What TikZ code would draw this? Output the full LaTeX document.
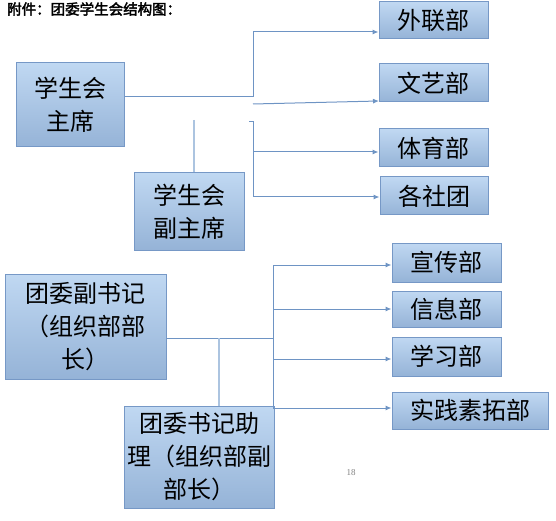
\documentclass[tikz,border=0pt]{standalone}
\usepackage{fontspec}
\setmainfont{Noto Sans CJK SC}
\newfontfamily\titlefont[FakeBold=2.5]{Noto Sans CJK SC}
\newfontfamily\numfont{Liberation Serif}
\usetikzlibrary{arrows.meta}
\definecolor{boxtop}{RGB}{192,216,242}
\definecolor{boxbot}{RGB}{149,179,215}
\definecolor{boxline}{RGB}{118,152,198}
\definecolor{connc}{RGB}{110,148,196}
\definecolor{lightc}{RGB}{172,196,224}
\tikzset{
  box/.style={draw=boxline, line width=1pt, top color=boxtop, bottom color=boxbot,
    inner sep=0pt, align=center, font=\fontsize{24}{33}\selectfont},
  conn/.style={draw=connc, line width=1pt},
  arr/.style={conn, -{Latex[length=6pt,width=5pt]}},
  lite/.style={draw=lightc, line width=1.6pt},
}
\begin{document}
\begin{tikzpicture}[x=1pt,y=-1pt]
\useasboundingbox (0,0) rectangle (556,521);
% title
\node[anchor=west, inner sep=0pt, font=\titlefont\fontsize{14.5}{16}\selectfont] (title) at (7,9) {附件：团委学生会结构图：};
% upper boxes
\node[box, minimum width=108pt, minimum height=84pt] (zx) at (70,105) {学生会\\主席};
\node[box, minimum width=110pt, minimum height=77pt] (fzx) at (189,211.5) {学生会\\副主席};
\node[box, minimum width=109pt, minimum height=37pt] (wl) at (433.5,20.5) {外联部};
\node[box, minimum width=109pt, minimum height=38pt] (wy) at (433.5,83) {文艺部};
\node[box, minimum width=109pt, minimum height=38pt] (ty) at (433.5,148) {体育部};
\node[box, minimum width=108pt, minimum height=38pt] (gst) at (434,196) {各社团};
% lower boxes
\node[box, minimum width=161pt, minimum height=105pt] (fsj) at (85.5,326.5) {团委副书记\\（组织部部\\长）};
\node[box, minimum width=150pt, minimum height=102pt] (zl) at (199,457) {团委书记助\\理（组织部副\\部长）};
\node[box, minimum width=109pt, minimum height=39pt] (xc) at (446.5,262.5) {宣传部};
\node[box, minimum width=109pt, minimum height=36pt] (xx) at (446.5,309) {信息部};
\node[box, minimum width=109pt, minimum height=39pt] (xxb) at (446.5,356.5) {学习部};
\node[box, minimum width=156pt, minimum height=37pt] (sj) at (470,410.5) {实践素拓部};
% page number
\node[inner sep=0pt, text=gray, font=\numfont\fontsize{9}{10}\selectfont] (pg) at (351,472.5) {18};
% helper coordinates
\coordinate (t1) at (253,97);
\coordinate (t2) at (253,32);
\coordinate (t3) at (253,104);
\coordinate (t4) at (379,101);
\coordinate (b0) at (249,122);
\coordinate (b1) at (253,122);
\coordinate (b2) at (253,152);
\coordinate (b3) at (253,197);
\coordinate (v1) at (194,120);
\coordinate (h1) at (273,338);
\coordinate (k1) at (273,265);
\coordinate (k2) at (273,309);
\coordinate (k3) at (273,359);
\coordinate (k4) at (273,408);
\coordinate (m1) at (219,338);
% upper connectors
\draw[arr] (zx.east |- t1) -- (t1) -- (t2) -- (wl.west |- t2);
\draw[arr] (t3) -- (t4);
\draw[conn] (b0) -- (b1) -- (b3);
\draw[arr] (b2) -- (ty.west |- b2);
\draw[arr] (b3) -- (gst.west |- b3);
\draw[lite] (v1) -- (fzx.north -| v1);
% lower connectors
\draw[conn] (fsj.east |- h1) -- (h1);
\draw[conn] (k1) -- (k4);
\draw[arr] (k1) -- (xc.west |- k1);
\draw[arr] (k2) -- (xx.west |- k2);
\draw[arr] (k3) -- (xxb.west |- k3);
\draw[arr] (k4) -- (sj.west |- k4);
\draw[lite] (m1) -- (zl.north -| m1);
\end{tikzpicture}
\end{document}
